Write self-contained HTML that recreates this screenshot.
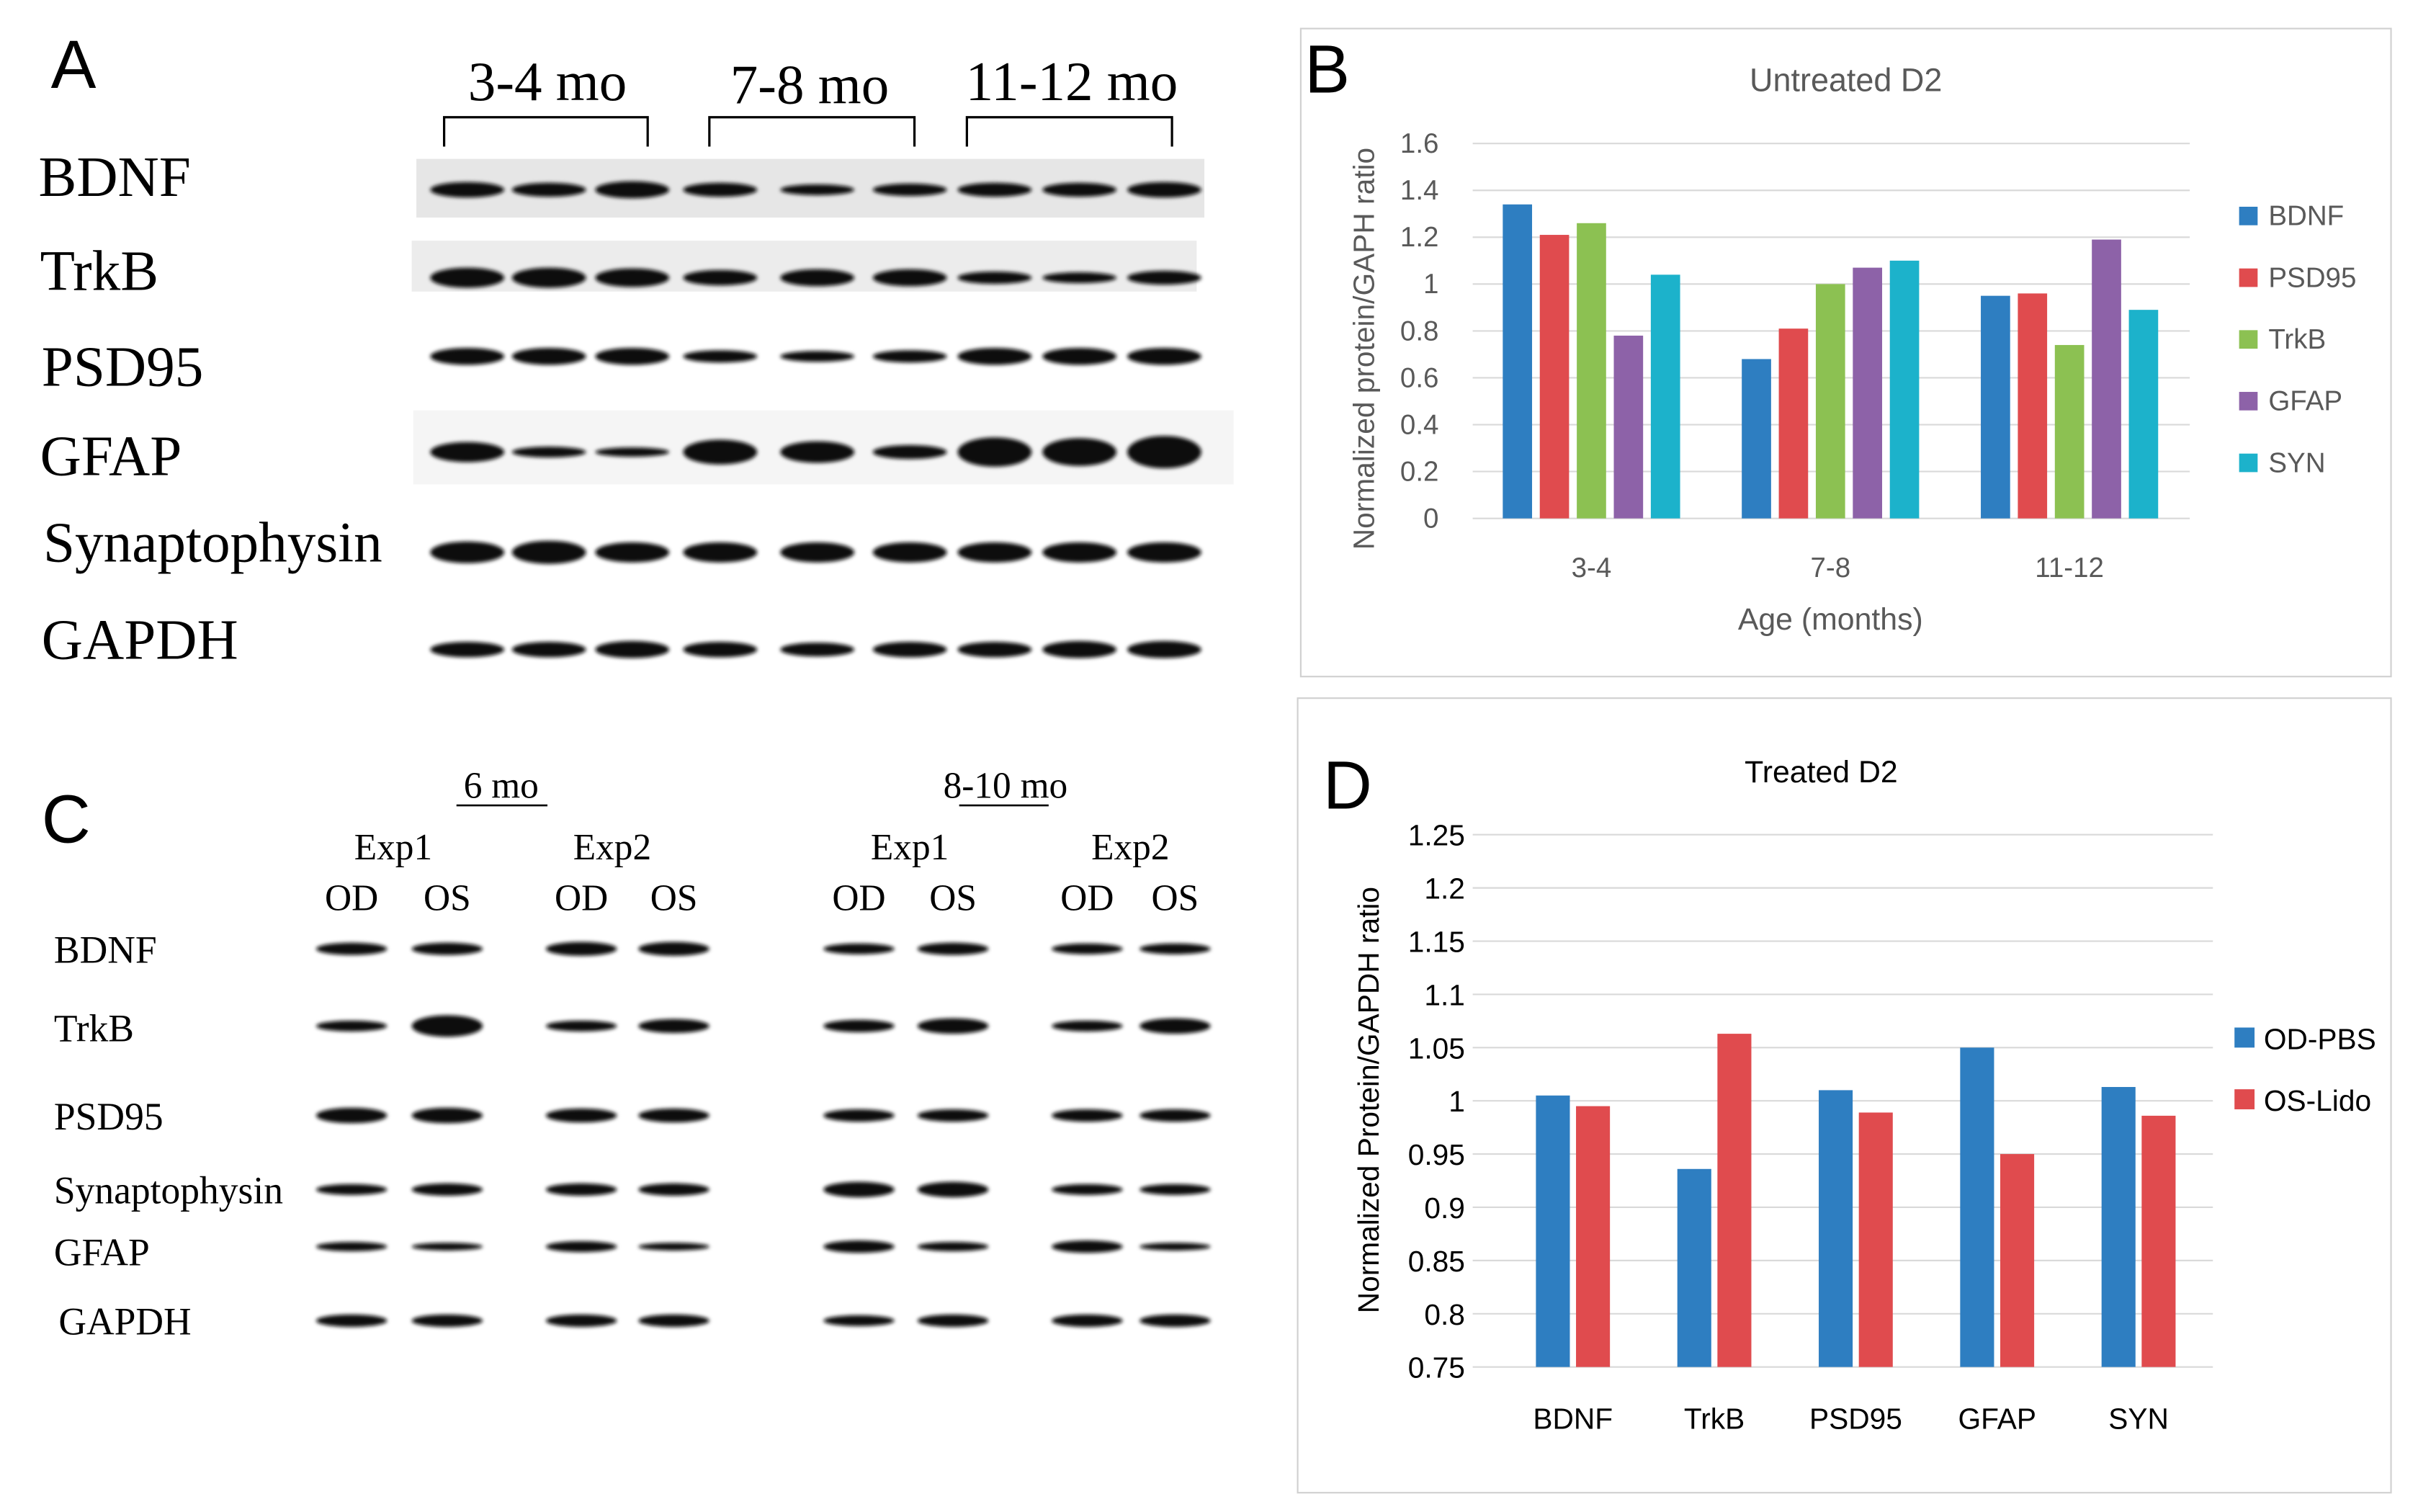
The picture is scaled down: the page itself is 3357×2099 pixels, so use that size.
<!DOCTYPE html>
<html><head><meta charset="utf-8">
<style>
html,body{margin:0;padding:0;background:#fff;}
svg{display:block;}
</style></head>
<body>
<svg id="fig" width="3357" height="2099" viewBox="0 0 1568 980" preserveAspectRatio="none" xmlns="http://www.w3.org/2000/svg">
<defs>
<filter id="blur" x="-20%" y="-50%" width="140%" height="200%"><feGaussianBlur stdDeviation="1.3"/></filter>
</defs>
<rect width="1568" height="980" fill="#fff"/>
<g id="panelA" font-family="'Liberation Serif',serif" fill="#000">
<text x="33" y="57" font-family="'Liberation Sans',sans-serif" font-size="44">A</text>
<text x="355" y="65" font-size="36" text-anchor="middle">3-4 mo</text>
<text x="525" y="67" font-size="36" text-anchor="middle">7-8 mo</text>
<text x="695" y="65" font-size="36" text-anchor="middle">11-12 mo</text>
<path d="M288 95V76H420V95M460 95V76H593V95M627 95V76H760V95" fill="none" stroke="#000" stroke-width="1.5"/>
<rect x="270" y="103" width="511" height="38" fill="#e6e6e6"/>
<rect x="267" y="156" width="509" height="33" fill="#ececec"/>
<rect x="268" y="266" width="532" height="48" fill="#f5f5f5"/>
</g>
<g id="panelC" font-family="'Liberation Serif',serif" fill="#000">
<text x="27" y="546" font-family="'Liberation Sans',sans-serif" font-size="44">C</text>
<text x="325" y="517" font-size="24" text-anchor="middle">6 mo</text>
<line x1="296" y1="522" x2="355" y2="522" stroke="#000" stroke-width="1.2"/>
<text x="652" y="517" font-size="24" text-anchor="middle">8-10 mo</text>
<line x1="622" y1="522" x2="680" y2="522" stroke="#000" stroke-width="1.2"/>
</g>
<g id="panelB"></g>
<g id="panelD"></g>
</svg>
<script>
// ---- Panel B data ----
const bAges = ["3-4","7-8","11-12"];
const bSeriesNames = ["BDNF","PSD95","TrkB","GFAP","SYN"];
const bBDNF = [1.34,0.68,0.95];
const bPSD95 = [1.21,0.81,0.96];
const bTrkB = [1.26,1.00,0.74];
const bGFAP = [0.78,1.07,1.19];
const bSYN = [1.04,1.10,0.89];
const bTicks = ["0","0.2","0.4","0.6","0.8","1","1.2","1.4","1.6"];
// ---- Panel D data ----
const dCats = ["BDNF","TrkB","PSD95","GFAP","SYN"];
const dODPBS = [1.005,0.936,1.010,1.050,1.013];
const dOSLido = [0.995,1.063,0.989,0.950,0.986];
const dTicks = ["0.75","0.8","0.85","0.9","0.95","1","1.05","1.1","1.15","1.2","1.25"];

const NS="http://www.w3.org/2000/svg";
function mk(parent,tag,attrs,text){const e=document.createElementNS(NS,tag);for(const k in attrs)e.setAttribute(k,attrs[k]);if(text!==undefined)e.textContent=text;parent.appendChild(e);return e;}
const SANS="'Liberation Sans',sans-serif";

// Panel B
(function(){
 const g=document.getElementById('panelB');
 const box=mk(g,'rect',{x:843.5,y:18.5,width:707,height:420,fill:'#fff',stroke:'#d0d0d0'});
 
 
 const L=mk(g,'text',{x:846,y:60,'font-family':SANS,'font-size':44,fill:'#000'},'B');
 
 
 const t=mk(g,'text',{x:1197,y:59,'font-family':SANS,'font-size':21,fill:'#595959','text-anchor':'middle'},'Untreated D2');
 
 
 const y0=336,y1=93,vmax=1.6;
 const yS=v=>y0-(v/vmax)*(y0-y1);
 bTicks.forEach(s=>{const v=parseFloat(s);const y=yS(v);
  const gl=mk(g,'line',{x1:955,x2:1420,y1:y,y2:y,stroke:'#d9d9d9','stroke-width':1});
  
  
  const tl=mk(g,'text',{x:933,y:y+6,'font-family':SANS,'font-size':18,fill:'#595959','text-anchor':'end'},s);
  
  
 });
 const colors=["#2e7ec1","#e04b4e","#8cc152","#8d62a8","#1cb2cb"];
 const series=[bBDNF,bPSD95,bTrkB,bGFAP,bSYN];
 const gx=i=>1032+i*155, bw=19, step=24;
 bAges.forEach((a,i)=>{
  series.forEach((s,j)=>{const x=gx(i)+(j-2)*step-bw/2;
   const r=mk(g,'rect',{x:x,y:yS(s[i]),width:bw,height:y0-yS(s[i]),fill:colors[j]});
   
   
  });
  const xl=mk(g,'text',{x:gx(i),y:374,'font-family':SANS,'font-size':18,fill:'#595959','text-anchor':'middle'},a);
  
  
 });
 const xt=mk(g,'text',{x:1187,y:408,'font-family':SANS,'font-size':20,fill:'#595959','text-anchor':'middle'},'Age (months)');
 
 
 const yt=mk(g,'text',{x:0,y:0,'font-family':SANS,'font-size':19,fill:'#595959','text-anchor':'middle',transform:'translate(891,226) rotate(-90)'},'Normalized protein/GAPH ratio');
 
 
 bSeriesNames.forEach((n,j)=>{const y=140+j*40;
  const le=mk(g,'g',{});
  
  
  mk(le,'rect',{x:1452,y:y-6,width:12,height:12,fill:colors[j]});
  mk(le,'text',{x:1471,y:y+6,'font-family':SANS,'font-size':18,fill:'#595959'},n);
 });
})();

// Panel D
(function(){
 const g=document.getElementById('panelD');
 const box=mk(g,'rect',{x:841.5,y:452.5,width:709,height:515,fill:'#fff',stroke:'#d0d0d0'});
 
 
 const L=mk(g,'text',{x:858,y:524,'font-family':SANS,'font-size':44,fill:'#000'},'D');
 
 
 const t=mk(g,'text',{x:1181,y:507,'font-family':SANS,'font-size':20,fill:'#000','text-anchor':'middle'},'Treated D2');
 
 
 const y0=886,y1=541,vmin=0.75,vmax=1.25;
 const yS=v=>y0-((v-vmin)/(vmax-vmin))*(y0-y1);
 dTicks.forEach(s=>{const y=yS(parseFloat(s));
  const gl=mk(g,'line',{x1:955,x2:1435,y1:y,y2:y,stroke:'#d9d9d9','stroke-width':1});
  
  
  const tl=mk(g,'text',{x:950,y:y+7,'font-family':SANS,'font-size':19,fill:'#000','text-anchor':'end'},s);
  
  
 });
 const cx=i=>1020+i*91.7, bw=22;
 dCats.forEach((c,i)=>{
  const r1=mk(g,'rect',{x:cx(i)-bw-2,y:yS(dODPBS[i]),width:bw,height:y0-yS(dODPBS[i]),fill:'#2e7ec1'});
  
  
  const r2=mk(g,'rect',{x:cx(i)+2,y:yS(dOSLido[i]),width:bw,height:y0-yS(dOSLido[i]),fill:'#e04b4e'});
  
  
  const xl=mk(g,'text',{x:cx(i),y:926,'font-family':SANS,'font-size':19,fill:'#000','text-anchor':'middle'},c);
  
  
 });
 const yt=mk(g,'text',{x:0,y:0,'font-family':SANS,'font-size':19,fill:'#000','text-anchor':'middle',transform:'translate(894,713) rotate(-90)','xml:space':'preserve'},'Normalized  Protein/GAPDH ratio');
 
 
 [["OD-PBS","#2e7ec1",673],["OS-Lido","#e04b4e",713]].forEach(([n,c,y])=>{
  const le=mk(g,'g',{});
  
  
  mk(le,'rect',{x:1449,y:y-7,width:13,height:13,fill:c});
  mk(le,'text',{x:1468,y:y+7,'font-family':SANS,'font-size':19,fill:'#000'},n);
 });
})();

// Panel A blots
(function(){
 const g=document.getElementById('panelA');
 const rows=[["BDNF",115,"BDNF",25],["TrkB",176,"TrkB",26],["PSD95",238,"PSD95",27],["GFAP",296,"GFAP",26],["Synaptophysin",352,"Synaptophysin",28],["GAPDH",415,"GAPDH",27]];
 const bandY=[123,180,231,293,358,421];
 const lanes=[303,356,410,467,530,590,645,700,755];
 const th=[[9,8,10,8,6,7,8,8,9],[12,12,11,9,10,10,7,6,8],[10,10,10,7,6,7,10,10,10],[12,6,5,15,13,8,18,17,20],[13,14,12,12,12,12,12,12,12],[9,9,10,9,8,9,9,10,10]];
 rows.forEach((r,i)=>{
  const t=mk(g,'text',{x:r[3],y:r[1]+12,'font-size':37},r[2]);
  
  
  lanes.forEach((x,j)=>{
   const b=mk(g,'ellipse',{cx:x,cy:bandY[i],rx:24,ry:th[i][j]/2+0.5,fill:'#111',filter:'url(#blur)'});
   
   
  });
 });
})();

// Panel C blots
(function(){
 const g=document.getElementById('panelC');
 [["Exp1",255],["Exp2",397],["Exp1",590],["Exp2",733]].forEach(([n,x])=>{
  const t=mk(g,'text',{x:x,y:557,'font-size':24,'text-anchor':'middle'},n);
  
  
 });
 const lanes=[228,290,377,437,557,618,705,762];
 lanes.forEach((x,j)=>{
  const t=mk(g,'text',{x:x,y:590,'font-size':24,'text-anchor':'middle'},j%2?"OS":"OD");
  
  
 });
 const rows=[["BDNF",35,624,615],["TrkB",35,675,665],["PSD95",35,732,723],["Synaptophysin",35,780,771],["GFAP",35,820,808],["GAPDH",38,865,856]];
 const th=[[7,7,8,8,6,7,6,6],[6,13,6,8,7,9,6,9],[9,9,8,8,7,7,7,7],[6,7,7,7,9,9,6,6],[5,4,6,4,7,5,7,4],[7,7,7,7,6,7,7,7]];
 rows.forEach((r,i)=>{
  const t=mk(g,'text',{x:r[1],y:r[2],'font-size':25},r[0]);
  
  
  lanes.forEach((x,j)=>{
   const b=mk(g,'ellipse',{cx:x,cy:r[3],rx:23,ry:th[i][j]/2+0.5,fill:'#111',filter:'url(#blur)'});
   
   
  });
 });
})();
</script>
</body></html>
